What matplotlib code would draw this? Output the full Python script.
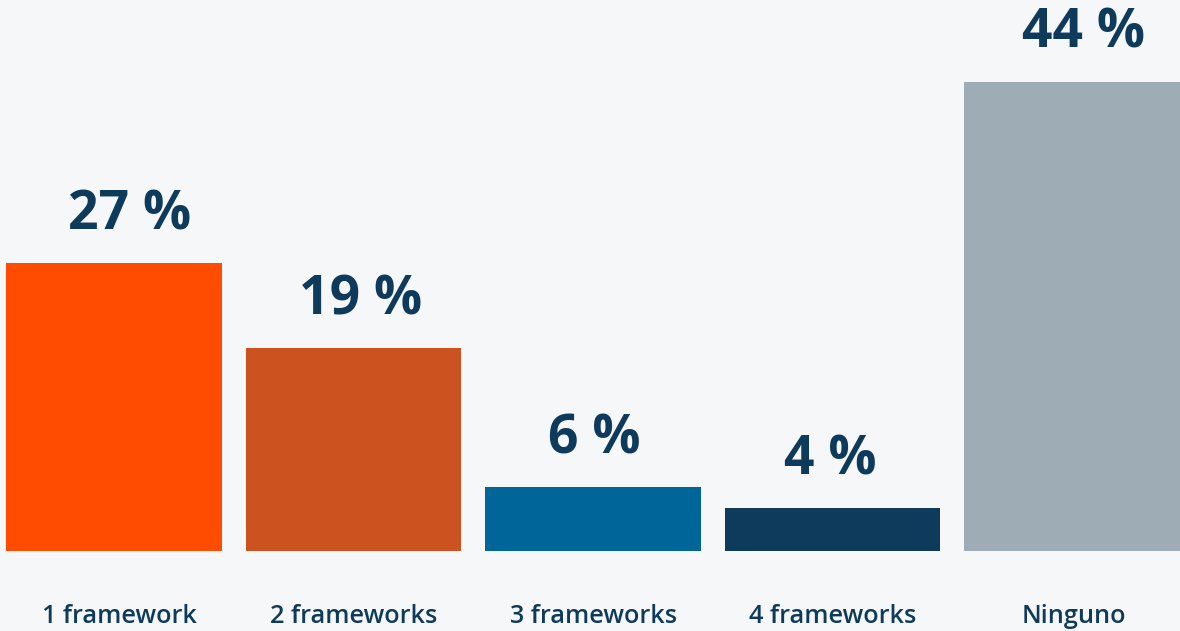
import matplotlib
matplotlib.use("Agg")
import matplotlib.pyplot as plt
import matplotlib.transforms as mtransforms

categories = ["1 framework", "2 frameworks", "3 frameworks", "4 frameworks", "Ninguno"]
values = [27, 19, 6, 4, 44]
colors = ["#ff4c00", "#cc5220", "#006699", "#0e3a5c", "#9eacb5"]

bg = "#f5f7f9"
textColor = "#0e3a5c"
plt.rcParams['font.family'] = ['Open Sans', 'DejaVu Sans']

# small horizontal nudges (points) of the labels, as in the original layout
valueNudge = [11, 5, 1, -2, 8]
nameNudge = [4, 0, 0, 0, 1]

fig = plt.figure(figsize=(11.8, 6.31), dpi=100, facecolor=bg)
# axes spans from first bar's left edge to last bar's right edge, baseline at y=551px
ax = fig.add_axes((6 / 1180, (631 - 551) / 631, 1174 / 1180, 551 / 631))
ax.set_facecolor(bg)

x = list(range(len(values)))
ax.bar(x, values, width=0.9, color=colors)
ax.set_xlim(-0.45, len(values) - 0.55)
ax.set_ylim(0, 44 * 551 / 469)

for xi, v, dx in zip(x, values, valueNudge):
    ax.annotate("%d %%" % v, (xi, v), xytext=(dx, 24.5), textcoords="offset points",
                ha="center", va="baseline", fontsize=38.5, fontweight="bold", color=textColor)

trans = mtransforms.blended_transform_factory(ax.transData, ax.transAxes)
for xi, name, dx in zip(x, categories, nameNudge):
    ax.annotate(name, (xi, 0), xycoords=trans, xytext=(dx, -52), textcoords="offset points",
                ha="center", va="baseline", fontsize=18.2, fontweight="semibold", color=textColor)

for spine in ax.spines.values():
    spine.set_visible(False)
ax.set_xticks([])
ax.set_yticks([])

fig.savefig("out.png", dpi=100, facecolor=bg)
